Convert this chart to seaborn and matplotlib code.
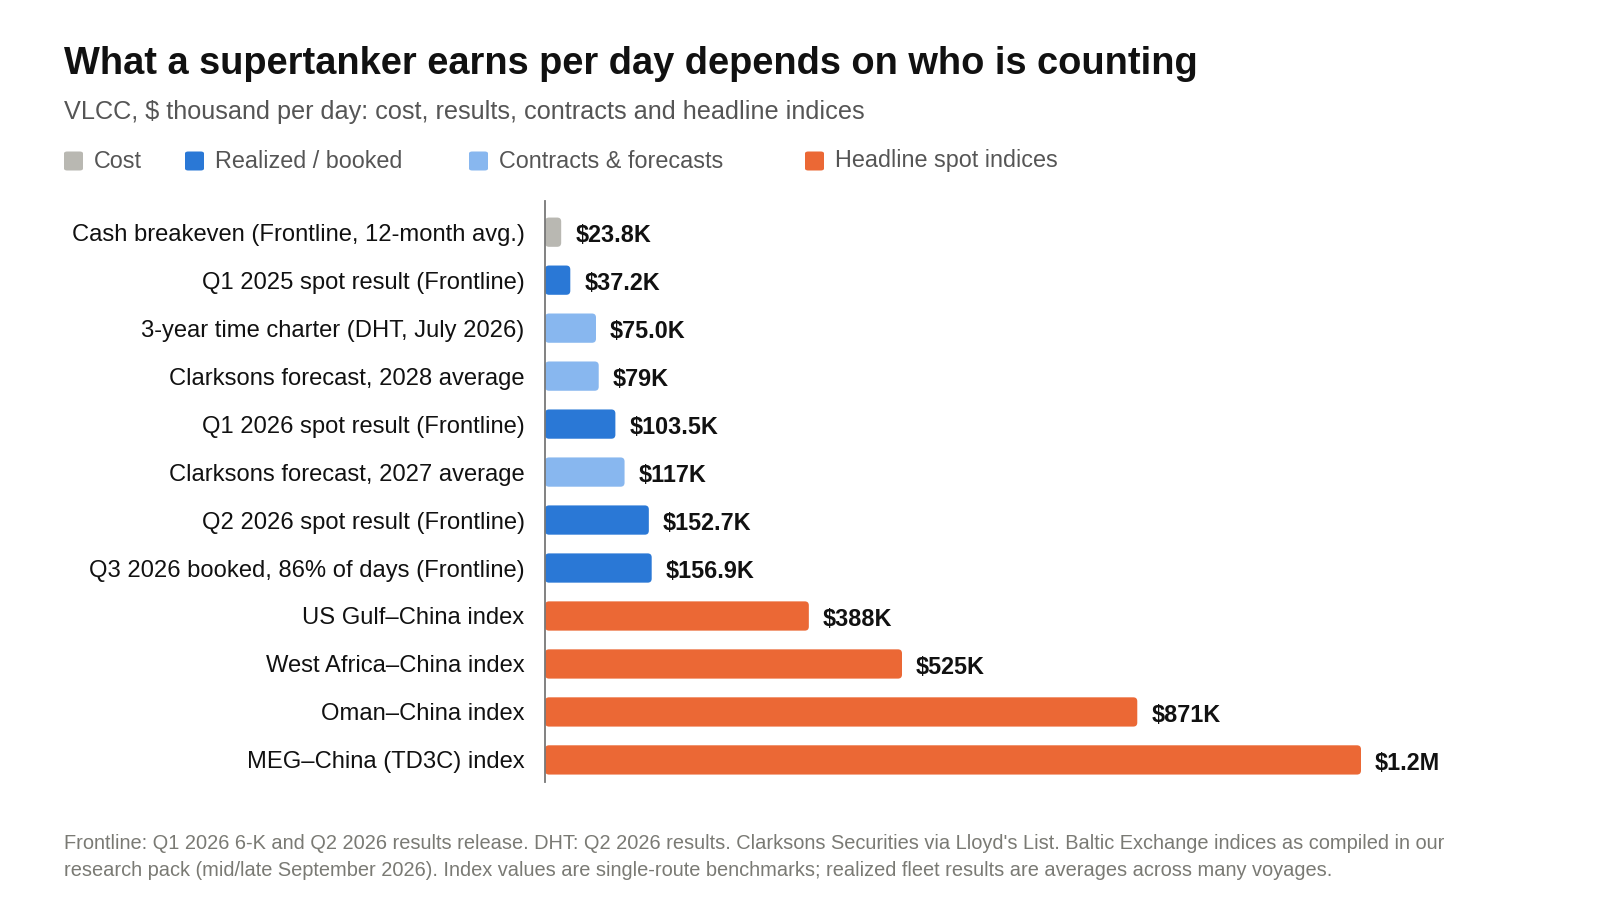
import matplotlib
matplotlib.use("Agg")
import matplotlib.pyplot as plt
from matplotlib.patches import FancyBboxPatch
import seaborn as sns
import pandas as pd

categories = [
    "Cash breakeven (Frontline, 12-month avg.)",
    "Q1 2025 spot result (Frontline)",
    "3-year time charter (DHT, July 2026)",
    "Clarksons forecast, 2028 average",
    "Q1 2026 spot result (Frontline)",
    "Clarksons forecast, 2027 average",
    "Q2 2026 spot result (Frontline)",
    "Q3 2026 booked, 86% of days (Frontline)",
    "US Gulf\u2013China index",
    "West Africa\u2013China index",
    "Oman\u2013China index",
    "MEG\u2013China (TD3C) index",
]
values = [23.8, 37.2, 75.0, 79, 103.5, 117, 152.7, 156.9, 388, 525, 871, 1200]
value_labels = ["$23.8K", "$37.2K", "$75.0K", "$79K", "$103.5K", "$117K",
                "$152.7K", "$156.9K", "$388K", "$525K", "$871K", "$1.2M"]
groups = ["Cost", "Realized / booked", "Contracts & forecasts", "Contracts & forecasts",
          "Realized / booked", "Contracts & forecasts", "Realized / booked",
          "Realized / booked", "Headline spot indices", "Headline spot indices",
          "Headline spot indices", "Headline spot indices"]
group_names = ["Cost", "Realized / booked", "Contracts & forecasts", "Headline spot indices"]
group_colors = ["#b9b8b2", "#2a78d6", "#88b7ef", "#eb6835"]

title = "What a supertanker earns per day depends on who is counting"
subtitle = "VLCC, $ thousand per day: cost, results, contracts and headline indices"
footnote = ("Frontline: Q1 2026 6-K and Q2 2026 results release. DHT: Q2 2026 results. Clarksons Securities via Lloyd's List. Baltic Exchange indices as compiled in our\n"
            "research pack (mid/late September 2026). Index values are single-route benchmarks; realized fleet results are averages across many voyages.")

df = pd.DataFrame({"category": categories, "value": values, "group": groups})

sns.set_theme(style="white")
plt.rcParams["font.family"] = ["Liberation Sans", "DejaVu Sans"]

W, H = 1600, 900
fig = plt.figure(figsize=(16, 9), dpi=100)
ax_left, ax_right, ax_top, ax_bot = 545, 1560, 201, 782
ax = fig.add_axes([ax_left / W, 1 - ax_bot / H, (ax_right - ax_left) / W, (ax_bot - ax_top) / H])

palette = dict(zip(group_names, group_colors))
sns.barplot(data=df, y="category", x="value", hue="group", palette=palette,
            hue_order=group_names, order=categories, orient="h", dodge=False,
            width=0.61, legend=False, ax=ax, saturation=1)

px_per_x = 0.680
ax.set_xlim(0, (ax_right - ax_left) / px_per_x)
ax.set_ylim(11.46, -0.65)
px_per_y = (ax_bot - ax_top) / (11.46 + 0.65)

# round the bar corners
r_px = 4.0
for p in list(ax.patches):
    w = p.get_width()
    if not w or w <= 0:
        p.remove()
        continue
    x0, y0, h = p.get_x(), p.get_y(), p.get_height()
    fc = p.get_facecolor()
    p.remove()
    rs = r_px / px_per_x
    fb = FancyBboxPatch((x0, y0), w, h,
                        boxstyle=f"round,pad=0,rounding_size={rs}",
                        mutation_aspect=(px_per_x / px_per_y),
                        facecolor=fc, edgecolor="none", zorder=2)
    ax.add_patch(fb)

for i, (v, lab) in enumerate(zip(values, value_labels)):
    ax.annotate(lab, xy=(v, i), xytext=(14, -1), textcoords="offset pixels",
                va="center_baseline", ha="left", fontsize=16.8, fontweight="bold",
                color="#111111")

for s in ["top", "right", "bottom"]:
    ax.spines[s].set_visible(False)
ax.spines["left"].set_color("#777777")
ax.spines["left"].set_linewidth(1.3)
ax.spines["left"].set_zorder(3)
ax.set_xticks([])
ax.set_xlabel("")
ax.set_ylabel("")
ax.tick_params(axis="y", length=0, pad=14.7, labelsize=17.1, labelcolor="#111111")
for t in ax.get_yticklabels():
    t.set_verticalalignment("center_baseline")

fig.text(64 / W, 1 - 64 / H, title, fontsize=27.4, fontweight="bold", color="#111111",
         va="center", ha="left")
fig.text(64 / W, 1 - 112 / H, subtitle, fontsize=18.2, color="#555555",
         va="center", ha="left")

legend_x = [64, 185, 469, 805]
sq = 19
for x, name, col in zip(legend_x, group_names, group_colors):
    fig.patches.append(FancyBboxPatch((x / W, 1 - (161 + sq / 2) / H), sq / W, sq / H,
                                      boxstyle="round,pad=0,rounding_size=0.002",
                                      transform=fig.transFigure, facecolor=col,
                                      edgecolor="none", figure=fig))
    fig.text((x + 30) / W, 1 - 161 / H, name, fontsize=16.8, color="#555555",
             va="center", ha="left")

fig.text(64 / W, 1 - 857 / H, footnote, fontsize=14.4, color="#7a7a74",
         va="center", ha="left", linespacing=1.48)

fig.savefig("out.png", dpi=100, facecolor="white")
